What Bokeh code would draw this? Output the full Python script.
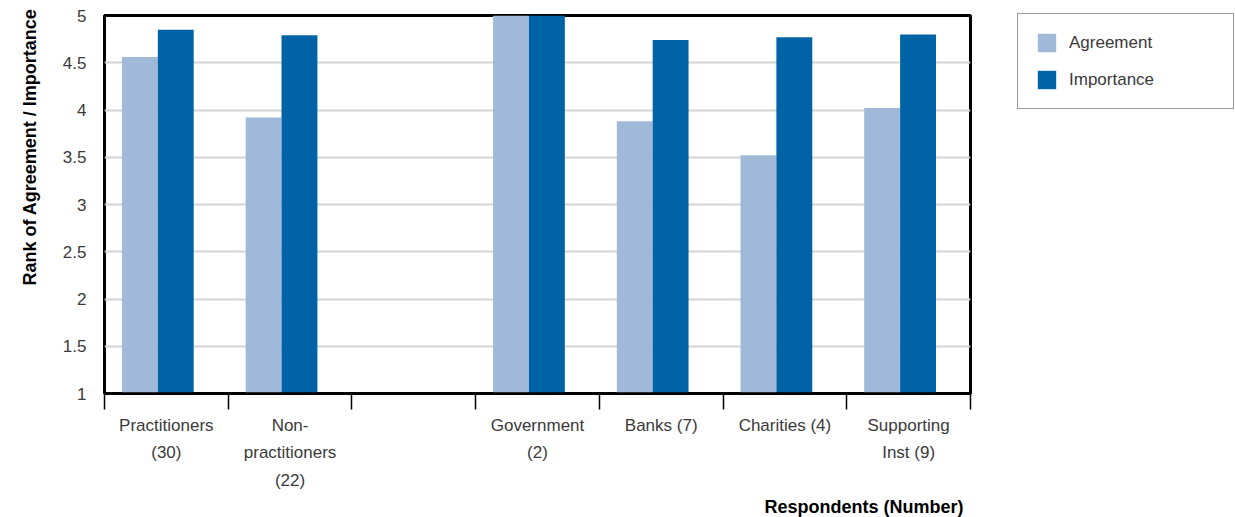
from bokeh.plotting import figure
from bokeh.models import (Range1d, LinearAxis, FixedTicker, Legend, LegendItem, Title,
                          ColumnDataSource, CustomJSTickFormatter)
from bokeh.transform import dodge
from bokeh.embed import file_html
from bokeh.resources import INLINE

# ---- data ----
categories = ["Practitioners\n(30)", "Non-\npractitioners\n(22)", "", "Government\n(2)",
              "Banks (7)", "Charities (4)", "Supporting\nInst (9)"]
agreement = [4.56, 3.92, None, 5.0, 3.88, 3.52, 4.02]
importance = [4.85, 4.79, None, 5.0, 4.74, 4.77, 4.80]
y_ticks = [1, 1.5, 2, 2.5, 3, 3.5, 4, 4.5, 5]
series_names = ["Agreement", "Importance"]
colors = ["#A0B9D9", "#0063A6"]

FONT = "Liberation Sans"
TXT = "#3a3a3a"
N = len(categories)


def nanify(vals):
    return [float("nan") if v is None else v for v in vals]


src = ColumnDataSource(dict(idx=list(range(N)), agr=nanify(agreement), imp=nanify(importance)))

p = figure(frame_width=866, frame_height=378,
           x_range=Range1d(0, N), y_range=Range1d(1, 5), x_axis_location=None,
           output_backend="svg", toolbar_location=None,
           min_border_left=104, min_border_top=15, min_border_right=10, min_border_bottom=0)
p.outline_line_color = "black"
p.outline_line_width = 3
p.background_fill_color = "white"
p.border_fill_color = "white"

r1 = p.vbar(x=dodge("idx", 0.286, range=p.x_range), top="agr", bottom=1, width=0.29,
            source=src, fill_color=colors[0], line_color=None)
r2 = p.vbar(x=dodge("idx", 0.576, range=p.x_range), top="imp", bottom=1, width=0.29,
            source=src, fill_color=colors[1], line_color=None)

# y axis
p.yaxis.ticker = FixedTicker(ticks=y_ticks)
p.yaxis.formatter = CustomJSTickFormatter(code="return String(tick)")
p.yaxis.axis_line_color = None
p.yaxis.major_tick_line_color = None
p.yaxis.minor_tick_line_color = None
p.yaxis.major_label_standoff = 12
p.yaxis.major_label_text_font = FONT
p.yaxis.major_label_text_font_size = "17px"
p.yaxis.major_label_text_color = TXT

p.ygrid.ticker = FixedTicker(ticks=y_ticks)
p.ygrid.grid_line_color = "#d4d4d4"
p.ygrid.grid_line_width = 2
p.xgrid.grid_line_color = None

# x axis: boundary ticks (no labels)
ax1 = LinearAxis(ticker=FixedTicker(ticks=list(range(N + 1))),
                 formatter=CustomJSTickFormatter(code="return ''"),
                 axis_line_color="black", axis_line_width=2.5,
                 major_tick_line_color="black", major_tick_line_width=1.5,
                 major_tick_in=0, major_tick_out=16, minor_tick_line_color=None,
                 major_label_standoff=0)
p.add_layout(ax1, "below")
# x axis: category labels at category centres
ax2 = LinearAxis(ticker=FixedTicker(ticks=[i + 0.5 for i in range(N)]),
                 formatter=CustomJSTickFormatter(args=dict(labels=categories),
                                                 code="return labels[Math.floor(tick)]"),
                 axis_line_color=None, major_tick_line_color=None, minor_tick_line_color=None,
                 major_tick_in=0, major_tick_out=0, major_label_standoff=6,
                 major_label_text_font=FONT, major_label_text_font_size="17px",
                 major_label_text_color=TXT, major_label_text_line_height=1.45)
p.add_layout(ax2, "below")

p.add_layout(Title(text="Respondents (Number)", align="right", offset=7, standoff=4,
                   text_font=FONT, text_font_size="18px", text_font_style="bold",
                   text_color="black"), "below")
p.add_layout(Title(text="Rank of Agreement / Importance", align="right", offset=-7,
                   standoff=36, vertical_align="top",
                   text_font=FONT, text_font_size="18px", text_font_style="bold",
                   text_color="black"), "left")

legend = Legend(items=[LegendItem(label=series_names[0], renderers=[r1]),
                       LegendItem(label=series_names[1], renderers=[r2])],
                location=(47, 284), padding=17, margin=0, spacing=14,
                glyph_width=23, glyph_height=23, label_standoff=11, label_width=147,
                label_text_font=FONT, label_text_font_size="17px", label_text_color=TXT,
                border_line_color="#333333", border_line_width=1.5)
p.add_layout(legend, "right")

open("out.html", "w").write(file_html(p, INLINE))
